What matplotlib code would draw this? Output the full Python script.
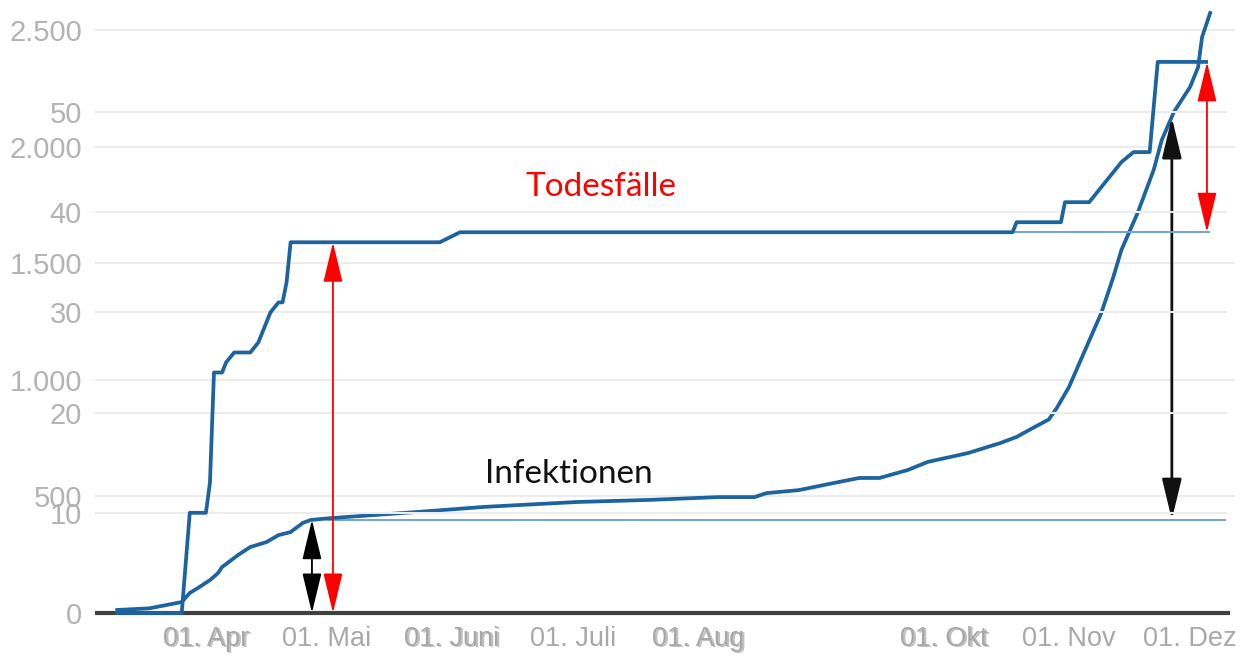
import pandas as pd
import matplotlib
matplotlib.use('Agg')
import matplotlib.pyplot as plt
import matplotlib.dates as mdates
from matplotlib.transforms import offset_copy

# Infektionen (kumuliert)
inf_dates = ['2020-03-10', '2020-03-18', '2020-03-26', '2020-03-28', '2020-03-30',
             '2020-04-02', '2020-04-04', '2020-04-05', '2020-04-09', '2020-04-12',
             '2020-04-16', '2020-04-19', '2020-04-22', '2020-04-25', '2020-04-27',
             '2020-05-02', '2020-05-24', '2020-06-09', '2020-07-02', '2020-07-20',
             '2020-08-06', '2020-08-15', '2020-08-18', '2020-08-26', '2020-09-05',
             '2020-09-10', '2020-09-15', '2020-09-22', '2020-09-27', '2020-10-07',
             '2020-10-15', '2020-10-19', '2020-10-23', '2020-10-27', '2020-10-29',
             '2020-11-01', '2020-11-05', '2020-11-09', '2020-11-12', '2020-11-14',
             '2020-11-18', '2020-11-22', '2020-11-24', '2020-11-27', '2020-12-01',
             '2020-12-03', '2020-12-04', '2020-12-06']
inf_values = [13, 20, 47, 86, 107,
              141, 171, 197, 249, 283,
              304, 334, 347, 386, 399,
              407, 434, 455, 476, 485,
              497, 497, 514, 527, 562,
              579, 579, 613, 648, 686,
              729, 755, 793, 830, 880,
              969, 1128, 1286, 1441, 1557,
              1715, 1900, 2028, 2148, 2255,
              2340, 2470, 2573]

# Todesfälle (kumuliert)
death_dates = ['2020-03-10', '2020-03-26', '2020-03-28', '2020-04-01', '2020-04-02',
               '2020-04-03', '2020-04-05', '2020-04-06', '2020-04-08', '2020-04-12',
               '2020-04-14', '2020-04-15', '2020-04-17', '2020-04-19', '2020-04-20',
               '2020-04-21', '2020-04-22', '2020-05-29', '2020-06-03', '2020-10-18',
               '2020-10-19', '2020-10-30', '2020-10-31', '2020-11-06', '2020-11-08',
               '2020-11-10', '2020-11-12', '2020-11-14', '2020-11-17', '2020-11-21',
               '2020-11-23', '2020-12-05']
death_values = [0, 0, 10, 10, 13,
                24, 24, 25, 26, 26,
                27, 28, 30, 31, 31,
                33, 37, 37, 38, 38,
                39, 39, 41, 41, 42,
                43, 44, 45, 46, 46,
                55, 55]

inf_ticks = [0, 500, 1000, 1500, 2000, 2500]
inf_labels = ['0', '500', '1.000', '1.500', '2.000', '2.500']
death_ticks = [10, 20, 30, 40, 50]
death_labels = ['10', '20', '30', '40', '50']

month_ticks = ['2020-04-01', '2020-05-01', '2020-06-01', '2020-07-01',
               '2020-08-01', '2020-10-01', '2020-11-01', '2020-12-01']
month_labels = ['01. Apr', '01. Mai', '01. Juni', '01. Juli',
                '01. Aug', '01. Okt', '01. Nov', '01. Dez']
# labels of the second (overlaid) chart
extra_ticks = ['2020-04-01', '2020-06-01', '2020-08-01', '2020-10-01']
extra_labels = ['01. Apr', '01. Juni', '01. Aug', '01. Okt']

blue = '#1c63a0'
grid = '#ececec'
tickgray = '#b3b3b3'

fig = plt.figure(figsize=(12.47, 6.57), dpi=100)
ax = fig.add_axes([95 / 1247, 32 / 657, 1145 / 1247, 620 / 657])
ax2 = ax.twinx()

apr1 = mdates.datestr2num('2020-04-01')
ax.set_xlim(apr1 - 27.5, apr1 + 256.4)
ax.set_ylim(-51.46, 2607.2)
ax2.set_ylim(-1.198, 60.68)

for v in inf_ticks[1:]:
    ax.axhline(v, xmax=0.995, color=grid, lw=1.5, zorder=0)
for v in death_ticks:
    ax2.axhline(v, xmax=0.988, color=grid, lw=1.5, zorder=0)

ax.axhline(0, xmax=0.9895, color='#404040', lw=3, zorder=1)

# reference levels
ax.hlines(400, pd.Timestamp('2020-05-01'), pd.Timestamp('2020-12-10'),
          color='#6fa3d8', lw=1.4, zorder=2)
ax2.hlines(38, pd.Timestamp('2020-10-18'), pd.Timestamp('2020-12-06'),
           color='#6fa3d8', lw=1.4, zorder=2)

ax.plot(pd.to_datetime(inf_dates), inf_values, color=blue, lw=2.7, zorder=3,
        solid_joinstyle='round')
ax2.plot(pd.to_datetime(death_dates), death_values, color=blue, lw=2.7, zorder=3,
         solid_joinstyle='round')

def arrow(a, x, y0, y1, color, lw):
    d = pd.Timestamp(x)
    a.annotate('', xy=(d, y0), xytext=(d, y1),
               arrowprops=dict(arrowstyle='<|-|>,head_length=1.25,head_width=0.3',
                               mutation_scale=20, color=color, lw=lw,
                               shrinkA=0, shrinkB=0), zorder=5)

arrow(ax2, '2020-05-02 12:00', 0, 37, 'red', 1.3)
arrow(ax2, '2020-12-05 05:00', 38, 55, 'red', 1.3)
arrow(ax, '2020-04-27 07:00', 0, 400, 'black', 1.3)
arrow(ax, '2020-11-26 12:00', 400, 2125, '#111111', 2.0)

ax2.text(pd.Timestamp('2020-07-08'), 41.6, 'Todesfälle', color='red',
         family='Lato', fontsize=24, ha='center', va='baseline')
ax.text(pd.Timestamp('2020-06-30'), 557, 'Infektionen', color='#111111',
        family='Lato', fontsize=24, ha='center', va='baseline')

for a in (ax, ax2):
    for s in a.spines.values():
        s.set_visible(False)

ax.set_yticks(inf_ticks, inf_labels)
ax2.set_yticks(death_ticks, death_labels)
ax2.yaxis.set_ticks_position('left')
ax2.yaxis.set_label_position('left')
for a in (ax, ax2):
    a.tick_params(axis='y', length=0, pad=9.4, labelsize=21,
                  labelcolor=tickgray)
    for t in a.get_yticklabels():
        t.set_family('Liberation Sans')

ax.set_xticks(mdates.datestr2num(month_ticks), month_labels)
ax.tick_params(axis='x', length=0, pad=1, labelsize=19.5, labelcolor='#a8a8a8')
for t in ax.get_xticklabels():
    t.set_family('Liberation Sans')

shifted = offset_copy(ax.get_xaxis_transform(), fig=fig, x=1.3, y=-1.4, units='points')
for d, lab in zip(extra_ticks, extra_labels):
    ax.text(mdates.datestr2num(d), 0, lab, transform=shifted, ha='center', va='top',
            fontsize=19.5, color='#a8a8a8', alpha=0.7, family='Liberation Sans')

fig.savefig('out.png', dpi=100)
